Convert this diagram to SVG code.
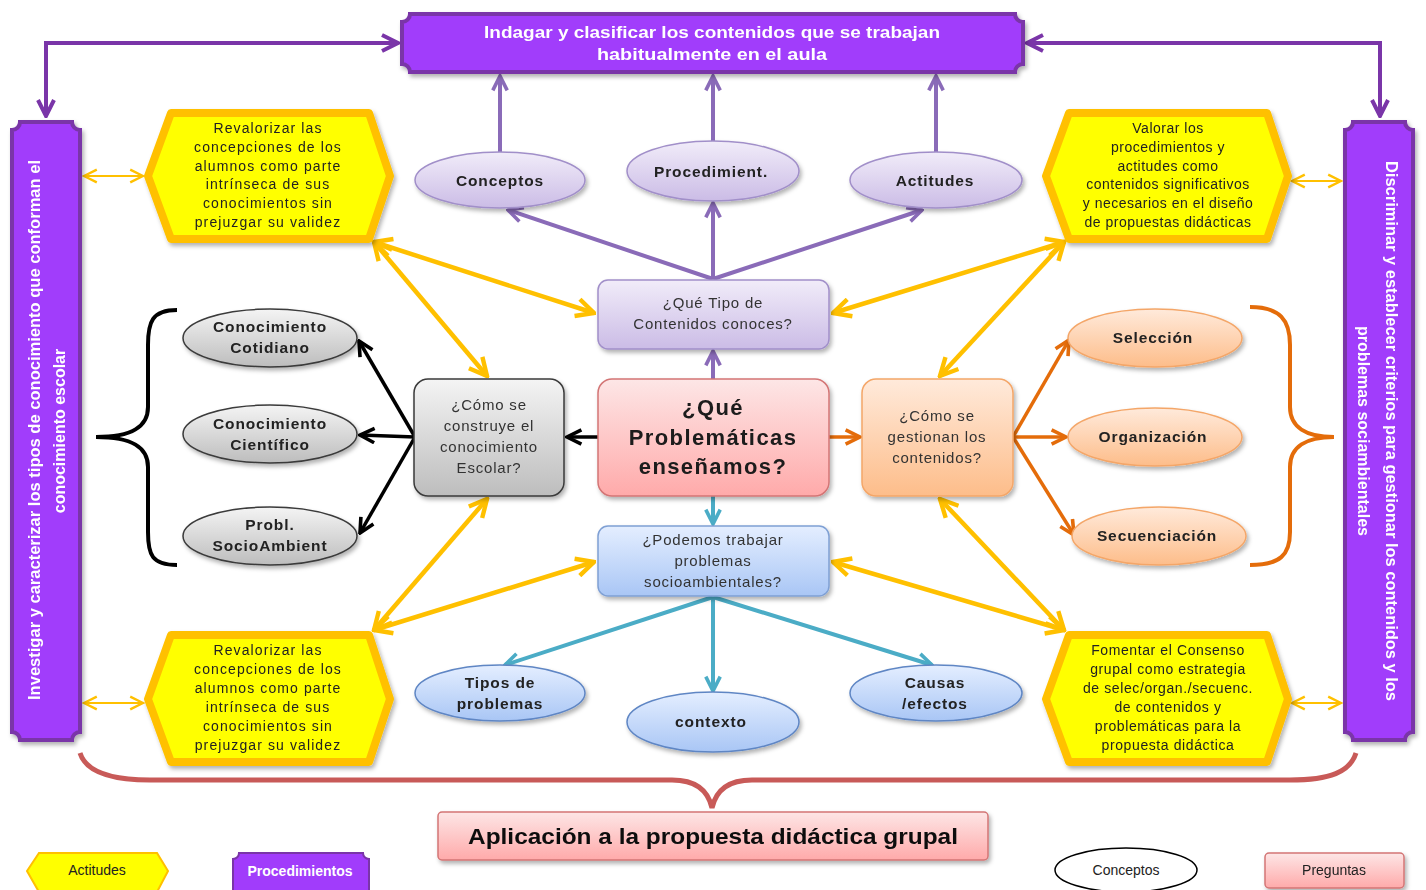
<svg xmlns="http://www.w3.org/2000/svg" width="1426" height="890" viewBox="0 0 1426 890">
<defs>
<style>
.t{font-family:"Liberation Sans",Arial,sans-serif;text-anchor:middle;}
.hx{font-size:14px;fill:#222;letter-spacing:1.1px;}
.bx{font-size:15px;fill:#333;letter-spacing:0.8px;}
.el{font-size:15.5px;font-weight:bold;fill:#222;letter-spacing:0.9px;}
.cn{font-size:22px;font-weight:bold;fill:#1a1a1a;letter-spacing:1.4px;}
.wh{fill:#fff;font-weight:bold;}
.hex{fill:#ffff00;stroke:#ffc000;stroke-width:8;stroke-linejoin:round;}
.bar{fill:#a13cfb;stroke:#7a35a8;stroke-width:4;}
.sh{filter:url(#sh);}
.c-yel{stroke:#ffc000;stroke-width:4.5;fill:none;marker-start:url(#mY);marker-end:url(#mY);}
.c-ys{stroke:#ffc000;stroke-width:2;fill:none;marker-start:url(#mYs);marker-end:url(#mYs);}
.c-pur{stroke:#8a6bb8;stroke-width:4;fill:none;marker-end:url(#mP);}
.c-dp{stroke:#7a35a8;stroke-width:4;fill:none;marker-start:url(#mD);marker-end:url(#mD);}
.c-blk{stroke:#000;stroke-width:3.5;fill:none;marker-end:url(#mK);}
.c-or{stroke:#e46c0a;stroke-width:3.5;fill:none;marker-end:url(#mO);}
.c-tl{stroke:#4bacc6;stroke-width:4;fill:none;marker-end:url(#mT);}
</style>
<filter id="sh" x="-10%" y="-10%" width="130%" height="140%">
<feDropShadow dx="2" dy="3" stdDeviation="2" flood-color="#000" flood-opacity="0.3"/>
</filter>
<linearGradient id="gLav" x1="0" y1="0" x2="0" y2="1"><stop offset="0" stop-color="#f1ecf9"/><stop offset="1" stop-color="#cbbce6"/></linearGradient>
<linearGradient id="gPink" x1="0" y1="0" x2="0" y2="1"><stop offset="0" stop-color="#fde6e6"/><stop offset="1" stop-color="#ffaaaa"/></linearGradient>
<linearGradient id="gBlue" x1="0" y1="0" x2="0" y2="1"><stop offset="0" stop-color="#e4eeff"/><stop offset="1" stop-color="#a9c6f5"/></linearGradient>
<linearGradient id="gGrey" x1="0" y1="0" x2="0" y2="1"><stop offset="0" stop-color="#f4f4f4"/><stop offset="1" stop-color="#bdbdbd"/></linearGradient>
<linearGradient id="gOr" x1="0" y1="0" x2="0" y2="1"><stop offset="0" stop-color="#ffeadb"/><stop offset="1" stop-color="#fdbd8a"/></linearGradient>
<marker id="mY" viewBox="0 0 10 10" refX="9" refY="5" markerWidth="22" markerHeight="22" markerUnits="userSpaceOnUse" orient="auto-start-reverse"><path d="M1,1 L9,5 L1,9" fill="none" stroke="#ffc000" stroke-width="2"/></marker>
<marker id="mYs" viewBox="0 0 10 10" refX="9" refY="5" markerWidth="16" markerHeight="16" markerUnits="userSpaceOnUse" orient="auto-start-reverse"><path d="M1,1 L9,5 L1,9" fill="none" stroke="#ffc000" stroke-width="1.5"/></marker>
<marker id="mP" viewBox="0 0 10 10" refX="9" refY="5" markerWidth="18" markerHeight="18" markerUnits="userSpaceOnUse" orient="auto-start-reverse"><path d="M1,1 L9,5 L1,9" fill="none" stroke="#8a6bb8" stroke-width="2"/></marker>
<marker id="mD" viewBox="0 0 10 10" refX="9" refY="5" markerWidth="20" markerHeight="20" markerUnits="userSpaceOnUse" orient="auto-start-reverse"><path d="M1,1 L9,5 L1,9" fill="none" stroke="#7a35a8" stroke-width="2"/></marker>
<marker id="mK" viewBox="0 0 10 10" refX="9" refY="5" markerWidth="18" markerHeight="18" markerUnits="userSpaceOnUse" orient="auto-start-reverse"><path d="M1,1 L9,5 L1,9" fill="none" stroke="#000" stroke-width="2"/></marker>
<marker id="mO" viewBox="0 0 10 10" refX="9" refY="5" markerWidth="18" markerHeight="18" markerUnits="userSpaceOnUse" orient="auto-start-reverse"><path d="M1,1 L9,5 L1,9" fill="none" stroke="#e46c0a" stroke-width="2"/></marker>
<marker id="mT" viewBox="0 0 10 10" refX="9" refY="5" markerWidth="18" markerHeight="18" markerUnits="userSpaceOnUse" orient="auto-start-reverse"><path d="M1,1 L9,5 L1,9" fill="none" stroke="#4bacc6" stroke-width="2"/></marker>
</defs>
<rect width="1426" height="890" fill="#fff"/>

<g id="connectors">
<path class="c-dp" d="M398,43 L46,43 L46,116"/>
<path class="c-dp" d="M1027,43 L1380,43 L1380,116"/>
<line class="c-ys" x1="84" y1="176" x2="143" y2="176"/>
<line class="c-ys" x1="84" y1="703" x2="143" y2="703"/>
<line class="c-ys" x1="1292" y1="181" x2="1341" y2="181"/>
<line class="c-ys" x1="1292" y1="703" x2="1341" y2="703"/>
<line class="c-pur" x1="500" y1="152" x2="500" y2="76"/>
<line class="c-pur" x1="713" y1="141" x2="713" y2="76"/>
<line class="c-pur" x1="936" y1="152" x2="936" y2="76"/>
<line class="c-pur" x1="713" y1="279" x2="508" y2="210"/>
<line class="c-pur" x1="713" y1="279" x2="713" y2="203"/>
<line class="c-pur" x1="713" y1="279" x2="922" y2="210"/>
<line class="c-pur" x1="713" y1="379" x2="713" y2="351"/>
<line class="c-yel" x1="374" y1="242" x2="594" y2="313"/>
<line class="c-yel" x1="374" y1="242" x2="487" y2="376"/>
<line class="c-yel" x1="1064" y1="242" x2="833" y2="313"/>
<line class="c-yel" x1="1064" y1="242" x2="940" y2="376"/>
<line class="c-yel" x1="374" y1="630" x2="594" y2="562"/>
<line class="c-yel" x1="374" y1="630" x2="487" y2="499"/>
<line class="c-yel" x1="1064" y1="630" x2="833" y2="562"/>
<line class="c-yel" x1="1064" y1="630" x2="940" y2="499"/>
<line class="c-blk" x1="598" y1="437" x2="567" y2="437"/>
<line class="c-blk" x1="415" y1="437" x2="359" y2="341"/>
<line class="c-blk" x1="415" y1="437" x2="360" y2="435"/>
<line class="c-blk" x1="415" y1="437" x2="360" y2="533"/>
<line class="c-or" x1="829" y1="437" x2="860" y2="437"/>
<line class="c-or" x1="1013" y1="437" x2="1069" y2="340"/>
<line class="c-or" x1="1013" y1="437" x2="1066" y2="437"/>
<line class="c-or" x1="1013" y1="437" x2="1074" y2="535"/>
<line class="c-tl" x1="713" y1="496" x2="713" y2="524"/>
<line class="c-tl" x1="713" y1="597" x2="505" y2="665"/>
<line class="c-tl" x1="713" y1="597" x2="713" y2="691"/>
<line class="c-tl" x1="713" y1="597" x2="932" y2="665"/>
<path d="M177,310 C152,310 148,322 148,345 L148,407 C148,427 132,437 96,437 C132,437 148,447 148,467 L148,532 C148,555 152,565 177,565" fill="none" stroke="#000" stroke-width="4"/>
<path d="M1250,307 C1280,307 1290,320 1290,345 L1290,407 C1290,427 1306,437 1334,437 C1306,437 1290,447 1290,467 L1290,532 C1290,555 1280,565 1250,565" fill="none" stroke="#e46c0a" stroke-width="4"/>
<path d="M80,753 C86,772 110,780 150,780 L672,780 C696,780 708,790 712,808 C716,790 728,780 752,780 L1290,780 C1330,780 1350,772 1356,753" fill="none" stroke="#c85a58" stroke-width="5"/>
</g>

<g id="banner" class="sh">
<path class="bar" d="M410,14 L1015,14 A8,8 0 0 0 1023,22 L1023,64 A8,8 0 0 0 1015,72 L410,72 A8,8 0 0 0 402,64 L402,22 A8,8 0 0 0 410,14 Z"/>
<text class="t wh" font-size="17" x="712" y="38" textLength="456" lengthAdjust="spacingAndGlyphs">Indagar y clasificar los contenidos que se trabajan</text>
<text class="t wh" font-size="17" x="712" y="60" textLength="230" lengthAdjust="spacingAndGlyphs">habitualmente en el aula</text>
</g>

<g id="barLeft" class="sh">
<path class="bar" d="M20,122 L72,122 A8,8 0 0 0 80,130 L80,732 A8,8 0 0 0 72,740 L20,740 A8,8 0 0 0 12,732 L12,130 A8,8 0 0 0 20,122 Z"/>
<text class="t wh" font-size="16" transform="translate(40,430) rotate(-90)" textLength="540" lengthAdjust="spacingAndGlyphs">Investigar y caracterizar los tipos de conocimiento que conforman el</text>
<text class="t wh" font-size="16" transform="translate(65,431) rotate(-90)">conocimiento escolar</text>
</g>

<g id="barRight" class="sh">
<path class="bar" d="M1353,122 L1405,122 A8,8 0 0 0 1413,130 L1413,732 A8,8 0 0 0 1405,740 L1353,740 A8,8 0 0 0 1345,732 L1345,130 A8,8 0 0 0 1353,122 Z"/>
<text class="t wh" font-size="16" transform="translate(1386,431) rotate(90)" textLength="540" lengthAdjust="spacingAndGlyphs">Discriminar y establecer criterios para gestionar los contenidos y los</text>
<text class="t wh" font-size="16" transform="translate(1358,431) rotate(90)">problemas sociambientales</text>
</g>

<g id="hexTL" class="sh">
<polygon class="hex" points="148,176 171,113 369,113 390,176 369,239 171,239"/>
<g class="t hx">
<text x="268" y="133">Revalorizar las</text>
<text x="268" y="152">concepciones de los</text>
<text x="268" y="171">alumnos como parte</text>
<text x="268" y="189">intrínseca de sus</text>
<text x="268" y="208">conocimientos sin</text>
<text x="268" y="227">prejuzgar su validez</text>
</g>
</g>

<g id="hexTR" class="sh">
<polygon class="hex" points="1046,176 1069,113 1267,113 1288,176 1267,239 1069,239"/>
<g class="t hx" style="letter-spacing:0.5px">
<text x="1168" y="133">Valorar los</text>
<text x="1168" y="152">procedimientos y</text>
<text x="1168" y="171">actitudes como</text>
<text x="1168" y="189">contenidos significativos</text>
<text x="1168" y="208">y necesarios en el diseño</text>
<text x="1168" y="227">de propuestas didácticas</text>
</g>
</g>

<g id="hexBL" class="sh">
<polygon class="hex" points="148,699 171,635 369,635 390,699 369,762 171,762"/>
<g class="t hx">
<text x="268" y="655">Revalorizar las</text>
<text x="268" y="674">concepciones de los</text>
<text x="268" y="693">alumnos como parte</text>
<text x="268" y="712">intrínseca de sus</text>
<text x="268" y="731">conocimientos sin</text>
<text x="268" y="750">prejuzgar su validez</text>
</g>
</g>

<g id="hexBR" class="sh">
<polygon class="hex" points="1046,699 1069,635 1267,635 1288,699 1267,762 1069,762"/>
<g class="t hx" style="letter-spacing:0.6px">
<text x="1168" y="655">Fomentar el Consenso</text>
<text x="1168" y="674">grupal como estrategia</text>
<text x="1168" y="693">de selec/organ./secuenc.</text>
<text x="1168" y="712">de contenidos y</text>
<text x="1168" y="731">problemáticas para la</text>
<text x="1168" y="750">propuesta didáctica</text>
</g>
</g>

<g id="elConceptos" class="sh"><ellipse cx="500" cy="180" rx="85" ry="28" fill="url(#gLav)" stroke="#a18fc9" stroke-width="1.5"/><text class="t el" x="500" y="186">Conceptos</text></g>
<g id="elProcedimient" class="sh"><ellipse cx="713" cy="171" rx="86" ry="30" fill="url(#gLav)" stroke="#a18fc9" stroke-width="1.5"/><text class="t el" x="711" y="177">Procedimient.</text></g>
<g id="elActitudes" class="sh"><ellipse cx="936" cy="180" rx="86" ry="28" fill="url(#gLav)" stroke="#a18fc9" stroke-width="1.5"/><text class="t el" x="935" y="186">Actitudes</text></g>

<g id="boxTipo" class="sh">
<rect x="598" y="280" width="231" height="69" rx="10" fill="url(#gLav)" stroke="#a18fc9" stroke-width="1.5"/>
<text class="t bx" x="713" y="308">¿Qué Tipo de</text>
<text class="t bx" x="713" y="329">Contenidos conoces?</text>
</g>

<g id="boxCentral" class="sh">
<rect x="598" y="379" width="231" height="117" rx="14" fill="url(#gPink)" stroke="#d37575" stroke-width="1.5"/>
<text class="t cn" x="713" y="415">¿Qué</text>
<text class="t cn" x="713" y="445">Problemáticas</text>
<text class="t cn" x="713" y="474">enseñamos?</text>
</g>

<g id="boxPodemos" class="sh">
<rect x="598" y="526" width="231" height="70" rx="10" fill="url(#gBlue)" stroke="#7fa0d4" stroke-width="1.5"/>
<text class="t bx" x="713" y="545">¿Podemos trabajar</text>
<text class="t bx" x="713" y="566">problemas</text>
<text class="t bx" x="713" y="587">socioambientales?</text>
</g>

<g id="boxEscolar" class="sh">
<rect x="414" y="379" width="150" height="117" rx="14" fill="url(#gGrey)" stroke="#3a3a3a" stroke-width="1.5"/>
<text class="t bx" x="489" y="410">¿Cómo se</text>
<text class="t bx" x="489" y="431">construye el</text>
<text class="t bx" x="489" y="452">conocimiento</text>
<text class="t bx" x="489" y="473">Escolar?</text>
</g>

<g id="boxGestion" class="sh">
<rect x="862" y="379" width="151" height="117" rx="14" fill="url(#gOr)" stroke="#f4a668" stroke-width="1.5"/>
<text class="t bx" x="937" y="421">¿Cómo se</text>
<text class="t bx" x="937" y="442">gestionan los</text>
<text class="t bx" x="937" y="463">contenidos?</text>
</g>

<g id="elCotidiano" class="sh"><ellipse cx="270" cy="338" rx="87" ry="29" fill="url(#gGrey)" stroke="#3a3a3a" stroke-width="1.5"/><text class="t el" x="270" y="332">Conocimiento</text><text class="t el" x="270" y="353">Cotidiano</text></g>
<g id="elCientifico" class="sh"><ellipse cx="270" cy="434" rx="87" ry="29" fill="url(#gGrey)" stroke="#3a3a3a" stroke-width="1.5"/><text class="t el" x="270" y="429">Conocimiento</text><text class="t el" x="270" y="450">Científico</text></g>
<g id="elSocio" class="sh"><ellipse cx="270" cy="536" rx="87" ry="29" fill="url(#gGrey)" stroke="#3a3a3a" stroke-width="1.5"/><text class="t el" x="270" y="530">Probl.</text><text class="t el" x="270" y="551">SocioAmbient</text></g>

<g id="elSeleccion" class="sh"><ellipse cx="1155" cy="338" rx="87" ry="29" fill="url(#gOr)" stroke="#f4a668" stroke-width="1.5"/><text class="t el" x="1153" y="343">Selección</text></g>
<g id="elOrganizacion" class="sh"><ellipse cx="1155" cy="437" rx="87" ry="29" fill="url(#gOr)" stroke="#f4a668" stroke-width="1.5"/><text class="t el" x="1153" y="442">Organización</text></g>
<g id="elSecuenciacion" class="sh"><ellipse cx="1159" cy="536" rx="87" ry="29" fill="url(#gOr)" stroke="#f4a668" stroke-width="1.5"/><text class="t el" x="1157" y="541">Secuenciación</text></g>

<g id="elTipos" class="sh"><ellipse cx="500" cy="693" rx="85" ry="28" fill="url(#gBlue)" stroke="#5f86c4" stroke-width="1.5"/><text class="t el" x="500" y="688">Tipos de</text><text class="t el" x="500" y="709">problemas</text></g>
<g id="elContexto" class="sh"><ellipse cx="713" cy="722" rx="86" ry="30" fill="url(#gBlue)" stroke="#5f86c4" stroke-width="1.5"/><text class="t el" x="711" y="727">contexto</text></g>
<g id="elCausas" class="sh"><ellipse cx="936" cy="693" rx="86" ry="28" fill="url(#gBlue)" stroke="#5f86c4" stroke-width="1.5"/><text class="t el" x="935" y="688">Causas</text><text class="t el" x="935" y="709">/efectos</text></g>

<g id="boxAplicacion" class="sh">
<rect x="438" y="812" width="550" height="48" rx="4" fill="url(#gPink)" stroke="#d37575" stroke-width="1.5"/>
<text class="t" font-size="22" font-weight="bold" fill="#111" x="713" y="844" textLength="490" lengthAdjust="spacingAndGlyphs">Aplicación a la propuesta didáctica grupal</text>
</g>

<g id="legActitudes">
<polygon points="27,871 39,853 157,853 168,871 157,892 39,892" fill="#ffff00" stroke="#ffc000" stroke-width="2"/>
<text class="t" font-size="14" fill="#222" x="97" y="875">Actitudes</text>
</g>
<g id="legProcedimientos">
<path d="M239,853 L363,853 A6,6 0 0 0 369,859 L369,892 L233,892 L233,859 A6,6 0 0 0 239,853 Z" fill="#a13cfb" stroke="#7a35a8" stroke-width="2"/>
<text class="t wh" font-size="14" x="300" y="876">Procedimientos</text>
</g>
<g id="legConceptos">
<ellipse cx="1126" cy="870" rx="71" ry="22" fill="#fff" stroke="#000" stroke-width="1.5"/>
<text class="t" font-size="14" fill="#222" x="1126" y="875">Conceptos</text>
</g>
<g id="legPreguntas" class="sh">
<rect x="1265" y="853" width="139" height="35" rx="4" fill="url(#gPink)" stroke="#d37575" stroke-width="1.5"/>
<text class="t" font-size="14" fill="#222" x="1334" y="875">Preguntas</text>
</g>
</svg>
